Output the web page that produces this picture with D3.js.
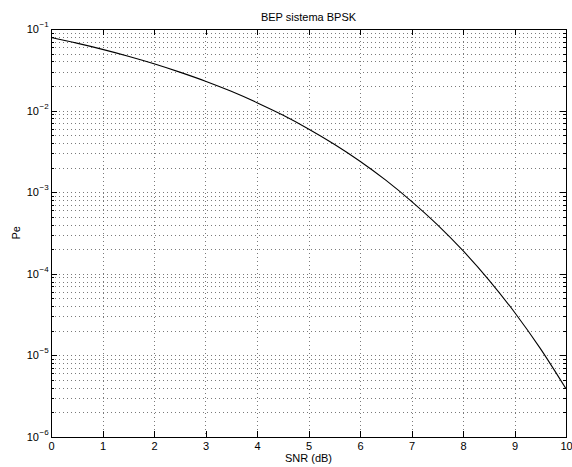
<!DOCTYPE html>
<html>
<head>
<meta charset="utf-8">
<script src="https://cdn.jsdelivr.net/npm/d3@7"></script>
<style>
  html, body { margin: 0; padding: 0; background: #fff; }
  svg { display: block; font-family: "Liberation Sans", Arial, Helvetica, sans-serif; }
</style>
</head>
<body>
<svg id="chart" width="572" height="467"></svg>
<script>
// SNR (dB) samples and bit error probability for BPSK
const snrDb = [0, 0.5, 1, 1.5, 2, 2.5, 3, 3.5, 4, 4.5, 5, 5.5, 6, 6.5, 7, 7.5, 8, 8.5, 9, 9.5, 10];
const pe = [0.0786, 0.0671, 0.0563, 0.0464, 0.0375, 0.0296, 0.0229, 0.0172, 0.0125, 0.0088,
            0.00595, 0.00386, 0.00239, 0.0014, 0.00077, 0.000399, 0.000191, 0.000084,
            0.0000336, 0.0000121, 0.00000387];

// axis ticks
const xTicks = [0, 1, 2, 3, 4, 5, 6, 7, 8, 9, 10];
const yExponents = [-6, -5, -4, -3, -2, -1];

const titleText = "BEP sistema BPSK";
const xLabel = "SNR (dB)";
const yLabel = "Pe";

const margin = { left: 51, right: 6, top: 29, bottom: 30 };
const W = 572, H = 467;
const x0 = margin.left, x1 = W - margin.right;
const y0 = margin.top, y1 = 436.7;

const svg = d3.select("#chart");

const x = d3.scaleLinear().domain([0, 10]).range([x0, x1]);
const y = d3.scaleLog().domain([1e-6, 1e-1]).range([y1, y0]);

// minor values for the log axis (2..9 within each decade)
const minorVals = [];
for (let e = -6; e < -1; e++) {
  for (let m = 2; m <= 9; m++) minorVals.push(m * Math.pow(10, e));
}
const majorVals = yExponents.map(e => Math.pow(10, e));

const grid = svg.append("g").attr("stroke", "#222").attr("stroke-width", 1)
  .attr("stroke-dasharray", "1,3").attr("shape-rendering", "crispEdges");

// horizontal grid lines
grid.selectAll("line.h").data(minorVals.concat(majorVals.slice(1, -1)))
  .enter().append("line")
  .attr("x1", x0).attr("x2", x1)
  .attr("y1", d => Math.round(y(d)) + 0.5).attr("y2", d => Math.round(y(d)) + 0.5)
  .attr("stroke-opacity", 0.6);

// vertical grid lines
grid.selectAll("line.v").data(xTicks.slice(1, -1))
  .enter().append("line")
  .attr("y1", y0).attr("y2", y1)
  .attr("x1", d => Math.round(x(d)) + 0.5).attr("x2", d => Math.round(x(d)) + 0.5)
  .attr("stroke-opacity", 0.6);

// axes via d3 axis generators, ticks pointing inward
const axes = svg.append("g").attr("shape-rendering", "crispEdges");

const xAxisBottom = d3.axisBottom(x).tickValues(xTicks).tickSizeInner(-6).tickSizeOuter(0).tickPadding(5.5)
  .tickFormat(d3.format("d"));
const gxb = axes.append("g").attr("transform", `translate(0,${y1})`).call(xAxisBottom);
gxb.selectAll("text").attr("font-size", 11).attr("fill", "#000").attr("dy", "0.71em")
  .attr("font-family", "Liberation Sans, Arial, sans-serif");

const xAxisTop = d3.axisTop(x).tickValues(xTicks).tickSizeInner(-6).tickSizeOuter(0).tickFormat("");
axes.append("g").attr("transform", `translate(0,${y0})`).call(xAxisTop);

const yAxisLeftMinor = d3.axisLeft(y).tickValues(minorVals).tickSizeInner(-3).tickSizeOuter(0).tickFormat("");
axes.append("g").attr("transform", `translate(${x0},0)`).call(yAxisLeftMinor);
const yAxisRightMinor = d3.axisRight(y).tickValues(minorVals).tickSizeInner(-3).tickSizeOuter(0).tickFormat("");
axes.append("g").attr("transform", `translate(${x1},0)`).call(yAxisRightMinor);

const yAxisLeft = d3.axisLeft(y).tickValues(majorVals).tickSizeInner(-6).tickSizeOuter(0).tickFormat("");
axes.append("g").attr("transform", `translate(${x0},0)`).call(yAxisLeft);
const yAxisRight = d3.axisRight(y).tickValues(majorVals).tickSizeInner(-6).tickSizeOuter(0).tickFormat("");
axes.append("g").attr("transform", `translate(${x1},0)`).call(yAxisRight);

axes.selectAll(".domain").remove();
axes.selectAll("line").attr("stroke", "#000");

// y tick labels: 10 with superscript exponent
const ylab = svg.append("g").attr("font-size", 11).attr("fill", "#000");
yExponents.forEach(e => {
  ylab.append("text")
    .attr("x", 39).attr("y", y(Math.pow(10, e)) + 4)
    .attr("text-anchor", "end")
    .text("10");
  ylab.append("text")
    .attr("x", 39.5).attr("y", y(Math.pow(10, e)) - 2)
    .attr("font-size", 8)
    .text("\u2212" + Math.abs(e));
});

// frame
svg.append("rect")
  .attr("x", x0 + 0.5).attr("y", Math.round(y0) + 0.5)
  .attr("width", Math.round(x1 - x0)).attr("height", Math.round(y1 - y0))
  .attr("fill", "none").attr("stroke", "#000").attr("stroke-width", 1)
  .attr("shape-rendering", "crispEdges");

// BEP curve
const line = d3.line()
  .x((d, i) => x(snrDb[i]))
  .y(d => y(d))
  .curve(d3.curveMonotoneX);
svg.append("path")
  .datum(pe)
  .attr("d", line)
  .attr("fill", "none")
  .attr("stroke", "#000")
  .attr("stroke-width", 1.1);

// title and axis labels
svg.append("text").attr("x", (x0 + x1) / 2).attr("y", 21)
  .attr("text-anchor", "middle").attr("font-size", 11).text(titleText);
svg.append("text").attr("x", (x0 + x1) / 2).attr("y", 462)
  .attr("text-anchor", "middle").attr("font-size", 11).text(xLabel);
svg.append("text").attr("transform", `translate(20,${(y0 + y1) / 2}) rotate(-90)`)
  .attr("text-anchor", "middle").attr("font-size", 11).text(yLabel);
</script>
</body>
</html>
